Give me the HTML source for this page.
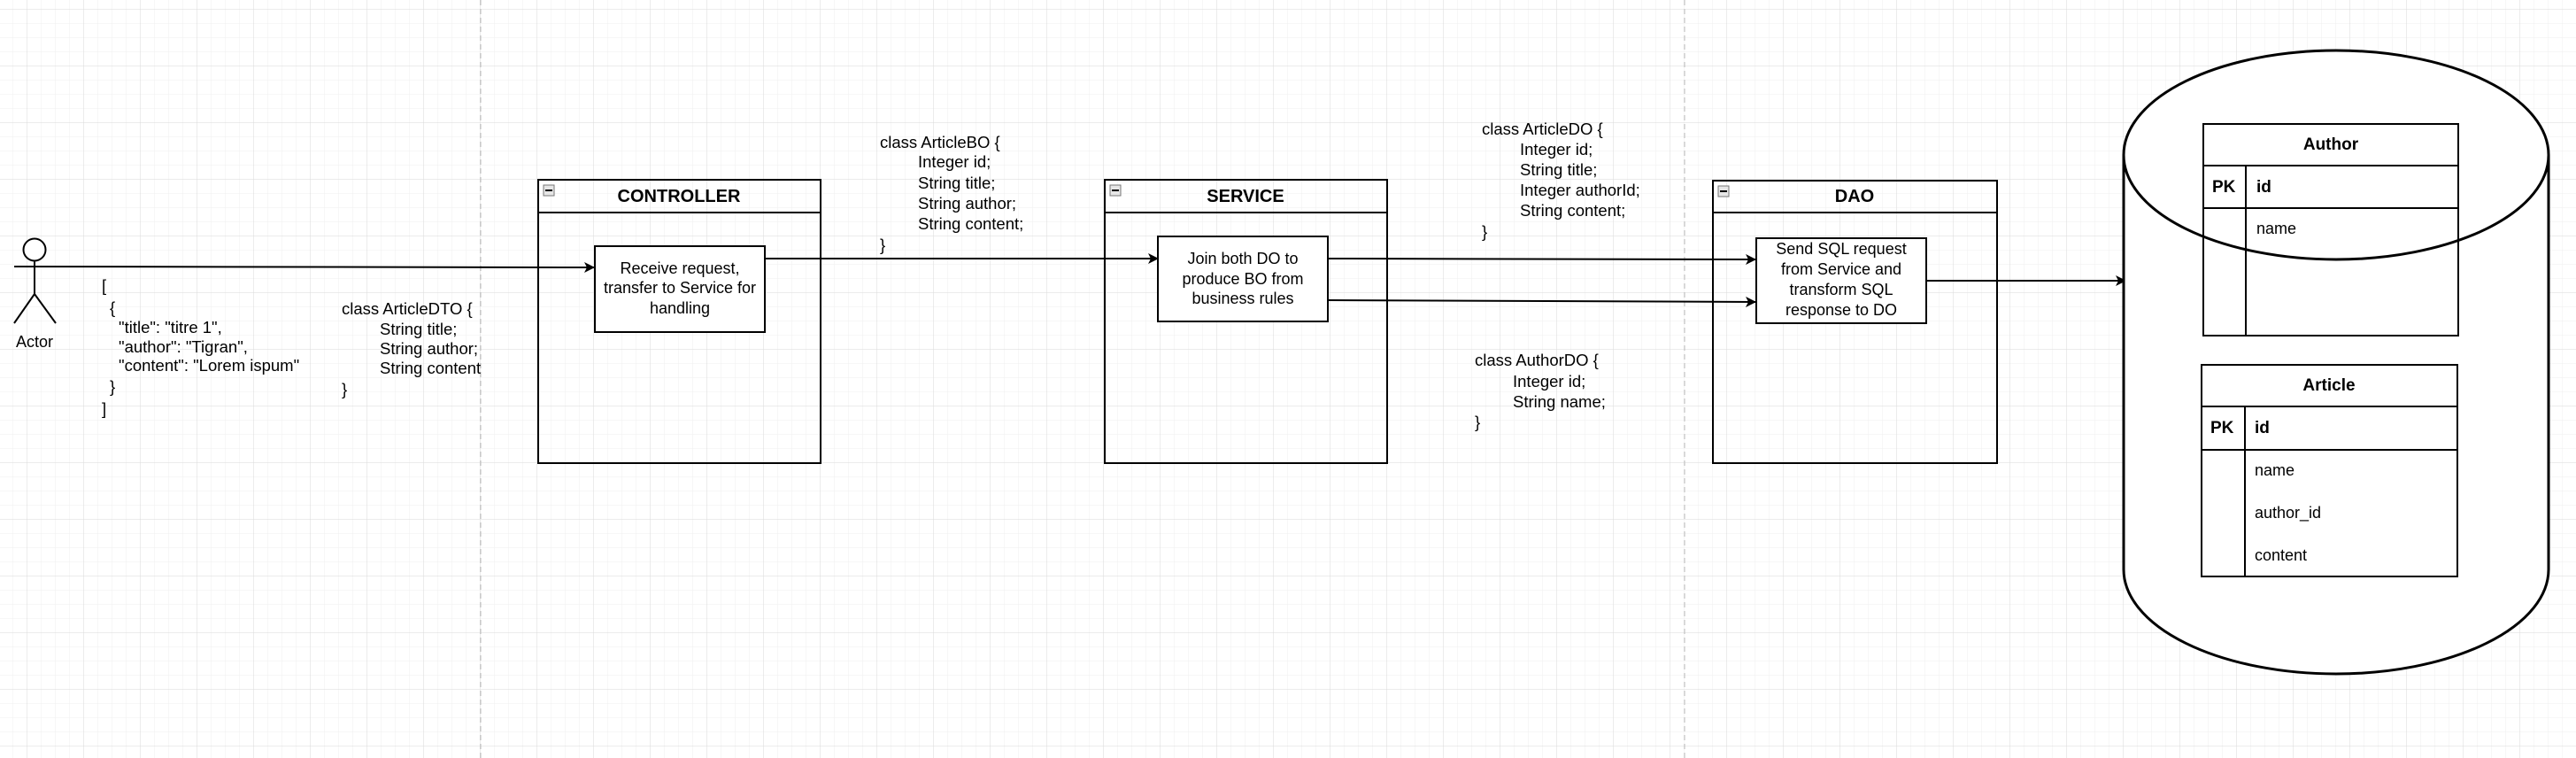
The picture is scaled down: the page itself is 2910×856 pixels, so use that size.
<!DOCTYPE html>
<html><head><meta charset="utf-8"><style>
html,body{margin:0;padding:0;background:#fff;}
svg{display:block;font-family:"Liberation Sans",Arial,sans-serif;}
</style></head><body>
<svg width="2910" height="856" viewBox="0 0 2910 856" xmlns="http://www.w3.org/2000/svg">
<defs>
<pattern id="minor" x="30" y="10" width="16" height="16" patternUnits="userSpaceOnUse">
<path d="M16 0H0V16" fill="none" stroke="#efefef" stroke-width="1"/>
</pattern>
<pattern id="major" x="30" y="10" width="64" height="64" patternUnits="userSpaceOnUse">
<path d="M64 0H0V64" fill="none" stroke="#dadada" stroke-width="1"/>
</pattern>
<marker id="ar" markerWidth="12" markerHeight="12" refX="11" refY="6" orient="auto" markerUnits="userSpaceOnUse">
<path d="M0,0 L12,6 L0,12 L3,6 Z" fill="#000"/>
</marker>
</defs>
<rect width="2910" height="856" fill="#fff"/>
<rect width="2910" height="856" fill="url(#minor)"/>
<rect width="2910" height="856" fill="url(#major)"/>
<line x1="543" y1="0" x2="543" y2="856" stroke="#bbb" stroke-dasharray="6,4"/>
<line x1="1903" y1="0" x2="1903" y2="856" stroke="#bbb" stroke-dasharray="6,4"/>

<g stroke="#000" stroke-width="2" fill="none">
<circle cx="39" cy="282" r="12.5" fill="#fff"/>
<line x1="39" y1="294" x2="39" y2="332"/>
<line x1="39" y1="332" x2="16" y2="365"/>
<line x1="39" y1="332" x2="63" y2="365"/>
</g>
<text x="39" y="392" font-size="18" text-anchor="middle">Actor</text>

<g stroke="#000" stroke-width="2" fill="none">
<line x1="16" y1="301" x2="671" y2="302" marker-end="url(#ar)"/>
<line x1="864" y1="292" x2="1308" y2="292" marker-end="url(#ar)"/>
<line x1="1500" y1="292" x2="1983" y2="293" marker-end="url(#ar)"/>
<line x1="1500" y1="339" x2="1983" y2="341" marker-end="url(#ar)"/>
<line x1="2176" y1="317" x2="2401" y2="317" marker-end="url(#ar)"/>
</g>

<g font-size="18.5" fill="#000">
<text x="115" y="329">[</text>
<text x="124" y="354">{</text>
<text x="134" y="376">"title": "titre 1",</text>
<text x="134" y="398">"author": "Tigran",</text>
<text x="134" y="419">"content": "Lorem ispum"</text>
<text x="124" y="443">}</text>
<text x="115" y="468">]</text>

<text x="386" y="355">class ArticleDTO {</text>
<text x="429" y="378">String title;</text>
<text x="429" y="400">String author;</text>
<text x="429" y="422">String content</text>
<text x="386" y="446">}</text>

<text x="994" y="167">class ArticleBO {</text>
<text x="1037" y="189">Integer id;</text>
<text x="1037" y="213">String title;</text>
<text x="1037" y="236">String author;</text>
<text x="1037" y="259">String content;</text>
<text x="994" y="283">}</text>

<text x="1674" y="152">class ArticleDO {</text>
<text x="1717" y="175">Integer id;</text>
<text x="1717" y="198">String title;</text>
<text x="1717" y="221">Integer authorId;</text>
<text x="1717" y="244">String content;</text>
<text x="1674" y="268">}</text>

<text x="1666" y="413">class AuthorDO {</text>
<text x="1709" y="437">Integer id;</text>
<text x="1709" y="460">String name;</text>
<text x="1666" y="483">}</text>
</g>

<g stroke="#000" stroke-width="2" fill="none">
<rect x="608" y="203" width="319" height="320"/>
<line x1="608" y1="240" x2="927" y2="240"/>
<rect x="1248" y="203" width="319" height="320"/>
<line x1="1248" y1="240" x2="1567" y2="240"/>
<rect x="1935" y="204" width="321" height="319"/>
<line x1="1935" y1="240" x2="2256" y2="240"/>
</g>
<g fill="#e6e6e6" stroke="#777" stroke-width="1">
<rect x="614" y="209" width="12" height="12"/>
<rect x="1254" y="209" width="12" height="12"/>
<rect x="1941" y="210" width="12" height="12"/>
<rect x="2496" y="147" width="12" height="12"/>
<rect x="2494" y="419" width="12" height="12"/>
</g>
<g stroke="#000" stroke-width="2">
<line x1="616" y1="215" x2="624" y2="215"/>
<line x1="1256" y1="215" x2="1264" y2="215"/>
<line x1="1943" y1="216" x2="1951" y2="216"/>
<line x1="2498" y1="153" x2="2506" y2="153"/>
<line x1="2496" y1="425" x2="2504" y2="425"/>
</g>
<g font-size="20" font-weight="bold" text-anchor="middle">
<text x="767" y="228">CONTROLLER</text>
<text x="1407" y="228">SERVICE</text>
<text x="2095" y="228">DAO</text>
</g>

<g stroke="#000" stroke-width="2" fill="#fff">
<rect x="672" y="278" width="192" height="97"/>
<rect x="1308" y="267" width="192" height="96"/>
<rect x="1984" y="269" width="192" height="96"/>
</g>
<g font-size="18" text-anchor="middle">
<text x="768" y="309">Receive request,</text>
<text x="768" y="331">transfer to Service for</text>
<text x="768" y="354">handling</text>
<text x="1404" y="298">Join both DO to</text>
<text x="1404" y="321">produce BO from</text>
<text x="1404" y="343">business rules</text>
<text x="2080" y="287">Send SQL request</text>
<text x="2080" y="310">from Service and</text>
<text x="2080" y="333">transform SQL</text>
<text x="2080" y="356">response to DO</text>
</g>

<g stroke="#000" stroke-width="3" fill="#fff">
<path d="M2399,175 L2399,643 A240,118 0 0 0 2879,643 L2879,175"/>
<ellipse cx="2639" cy="175" rx="240" ry="118"/>
</g>

<g stroke="#000" stroke-width="2" fill="none">
<rect x="2489" y="140" width="288" height="239"/>
<line x1="2489" y1="187" x2="2777" y2="187"/>
<line x1="2489" y1="235" x2="2777" y2="235"/>
<line x1="2537" y1="187" x2="2537" y2="379"/>
<rect x="2487" y="412" width="289" height="239"/>
<line x1="2487" y1="459" x2="2776" y2="459"/>
<line x1="2487" y1="508" x2="2776" y2="508"/>
<line x1="2536" y1="459" x2="2536" y2="651"/>
</g>
<g font-size="19" font-weight="bold">
<text x="2633" y="169" text-anchor="middle">Author</text>
<text x="2499" y="217">PK</text>
<text x="2549" y="217">id</text>
<text x="2631" y="441" text-anchor="middle">Article</text>
<text x="2497" y="489">PK</text>
<text x="2547" y="489">id</text>
</g>
<g font-size="18">
<text x="2549" y="264">name</text>
<text x="2547" y="537">name</text>
<text x="2547" y="585">author_id</text>
<text x="2547" y="633">content</text>
</g>
</svg>
</body></html>
